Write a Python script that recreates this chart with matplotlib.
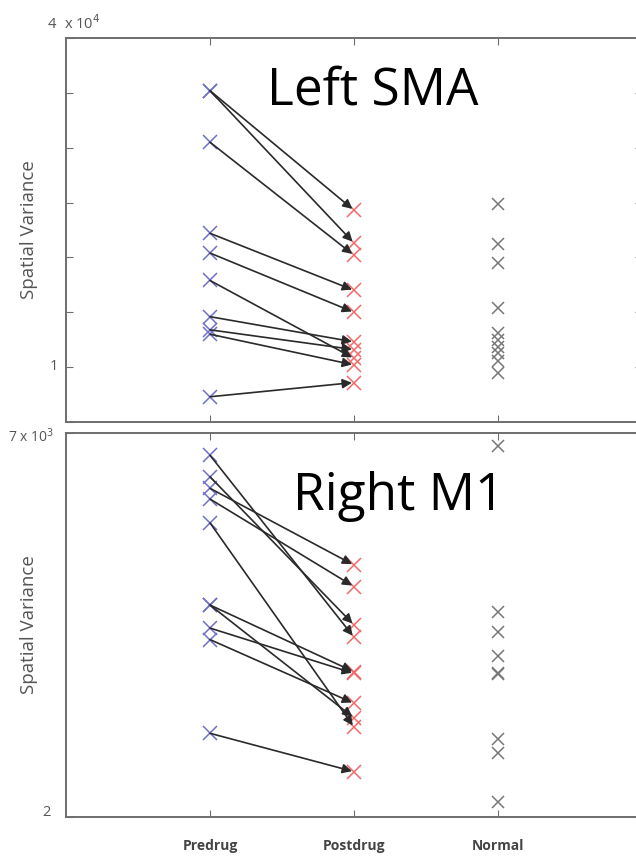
import matplotlib.pyplot as plt

# Left SMA (x 10^4)
sma_pre = [3.52, 3.52, 3.05, 2.22, 2.04, 1.79, 1.46, 1.34, 1.30, 0.73]
sma_post = [2.43, 2.13, 2.02, 1.70, 1.50, 1.08, 1.23, 1.16, 1.02, 0.86]
sma_normal = [2.49, 2.12, 1.95, 1.54, 1.31, 1.25, 1.18, 1.13, 1.06, 0.95]

# Right M1 (x 10^3)
m1_pre = [6.71, 6.43, 6.28, 6.14, 5.83, 4.76, 4.76, 4.46, 4.31, 3.09]
m1_post = [4.34, 4.50, 5.28, 5.00, 3.17, 3.89, 3.29, 3.87, 3.48, 2.59]
m1_normal = [6.83, 4.67, 4.41, 4.10, 3.88, 3.86, 3.02, 2.83, 2.20]

groups = ['Predrug', 'Postdrug', 'Normal']

W, H = 636, 858
fig = plt.figure(figsize=(W / 100, H / 100), dpi=100)
plt.rcParams['font.family'] = ['Open Sans', 'DejaVu Sans']

spine_c = '#6e6e6e'
blue = '#6f6fcf'
red = '#f06a6a'
grey = '#777777'
line_c = '#2a2a2a'


def panel(top, bottom, pre, post, normal):
    ax = fig.add_axes([66 / W, 1 - bottom / H, 576 / W, (bottom - top) / H])
    for i in range(len(pre)):
        ax.annotate('', xy=(2, post[i]), xytext=(1, pre[i]),
                    arrowprops=dict(arrowstyle='-|>', color=line_c, lw=1.2,
                                    shrinkA=0, shrinkB=1.5, mutation_scale=14),
                    zorder=3)
    ax.plot([1] * len(pre), pre, 'x', color=blue, ms=10, mew=1.1, zorder=2)
    ax.plot([2] * len(post), post, 'x', color=red, ms=10, mew=1.1, zorder=2)
    ax.plot([3] * len(normal), normal, 'x', color=grey, ms=8.5, mew=1.1, zorder=2)
    ax.set_xlim(0, 4)
    ax.set_xticks([1, 2, 3])
    ax.set_xticklabels([])
    ax.tick_params(direction='in', length=5, color=spine_c, top=True, right=True,
                   labelleft=False, labelbottom=False)
    for s in ax.spines.values():
        s.set_color(spine_c)
        s.set_linewidth(1.4)
    ax.set_ylabel('Spatial Variance', fontsize=13.5, color='#555555', labelpad=20)
    return ax


ax1 = panel(38, 422, sma_pre, sma_post, sma_normal)
ax1.set_ylim(0.5, 4)
ax1.set_yticks([0.5, 1, 1.5, 2, 2.5, 3, 3.5, 4])
ax1.text(0.533, 0.862, 'Left SMA', transform=ax1.transAxes, fontsize=37,
         ha='center', va='center', color='black')

ax2 = panel(433, 817, m1_pre, m1_post, m1_normal)
ax2.set_ylim(2, 7)
ax2.set_yticks([2, 7])
ax2.text(0.578, 0.835, 'Right M1', transform=ax2.transAxes, fontsize=37,
         ha='center', va='center', color='black')

# axis labels in the style of the original
lab_c = '#555555'
fig.text(52 / W, 1 - 25 / H, '4', fontsize=10.5, color=lab_c, ha='center', va='center')
fig.text(64 / W, 1 - 24 / H, r'x 10$^4$', fontsize=10.5, color=lab_c, ha='left', va='center')
fig.text(54 / W, 1 - 367 / H, '1', fontsize=10.5, color=lab_c, ha='center', va='center')
fig.text(8 / W, 1 - 437 / H, r'7 x 10$^3$', fontsize=10, color=lab_c, ha='left', va='center')
fig.text(46 / W, 1 - 812 / H, '2', fontsize=10.5, color=lab_c, ha='center', va='center')

for i, g in enumerate(groups):
    x = ax2.transData.transform((i + 1, 2))[0] / W
    fig.text(x, 1 - 846 / H, g, fontsize=10, fontweight='bold', color='#444444',
             ha='center', va='center')

fig.savefig('out.png', dpi=100)
